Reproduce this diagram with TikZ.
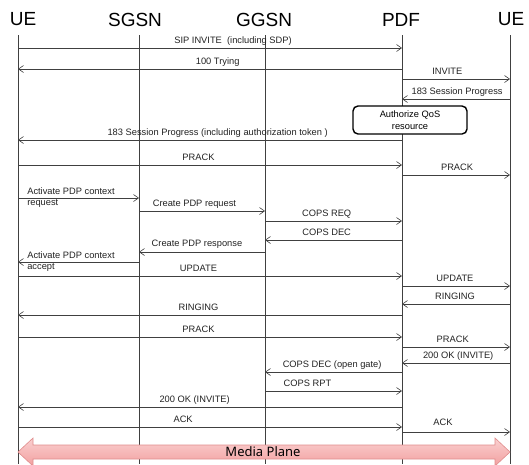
\documentclass[tikz,border=0pt]{standalone}
\usepackage{fontspec}
\setmainfont{Liberation Sans}
\newfontfamily\planefont{Noto Sans}
\usepackage{tikz}
\usetikzlibrary{arrows.meta}
\definecolor{linegray}{HTML}{404040}
\definecolor{textgray}{HTML}{222222}
\definecolor{planetop}{HTML}{FAD0D0}
\definecolor{planebot}{HTML}{F2A0A0}
\definecolor{planeedge}{HTML}{E08C8C}
\tikzset{every node/.append style={font=\rmfamily}}

\begin{document}
\begin{tikzpicture}[x=1pt, y=-1pt, >={Straight Barb[length=5pt,width=7pt]},
    actor/.style={text=black, font=\fontsize{19}{22}\selectfont},
    life/.style={line width=0.6pt, color=linegray},
    msg/.style={->, line width=0.6pt, color=linegray},
    lbl/.style={above=3.5pt, inner sep=1pt, text depth=0pt, text=textgray, font=\fontsize{9.3}{11}\selectfont},
    lbltwo/.style={align=left, anchor=west, inner sep=1pt, text=textgray, font=\fontsize{9.3}{11}\selectfont},
    qosbox/.style={draw, line width=1.4pt, rounded corners=5pt, fill=white, align=center,
        minimum width=114pt, minimum height=28pt, inner sep=0pt, font=\fontsize{9.3}{12}\selectfont},
    planearrow/.style={draw=planeedge, line width=0.6pt, top color=planetop, bottom color=planebot}]
    \useasboundingbox (0,0) rectangle (529,464);

    % Entities
    \node[actor] (hue1)  at (23,19.5)  {UE};
    \node[actor] (hsgsn) at (135,19.5) {SGSN};
    \node[actor] (hggsn) at (264,19.5) {GGSN};
    \node[actor] (hpdf)  at (401,19.5) {PDF};
    \node[actor] (hue2)  at (511,19.5) {UE};

    % Lifelines
    \coordinate (ue1)  at (18,35);
    \coordinate (sgsn) at (139,35);
    \coordinate (ggsn) at (265,35);
    \coordinate (pdf)  at (402,35);
    \coordinate (ue2)  at (510,35);
    \foreach \n in {ue1,sgsn,ggsn,pdf,ue2}
        \draw[life] (\n) -- (\n |- 0,464);

    % Session setup
    \draw[msg] (ue1 |- 0,48) -- node[lbl, pos=.56] {SIP INVITE \ (including SDP)} (pdf |- 0,48);
    \draw[msg] (pdf |- 0,69) -- node[lbl, pos=.48] {100 Trying} (ue1 |- 0,69);
    \draw[msg] (pdf |- 0,79) -- node[lbl, pos=.42] {INVITE} (ue2 |- 0,79);
    \draw[msg] (ue2 |- 0,99) -- node[lbl, pos=.49] {183 Session Progress} (pdf |- 0,99);

    \node[qosbox] (qos) at (410,120) {Authorize QoS\\resource};

    \draw[msg] (pdf |- 0,140) -- node[lbl, pos=.48] {183 Session Progress (including authorization token )} (ue1 |- 0,140);
    \draw[msg] (ue1 |- 0,165) -- node[lbl, pos=.47] {PRACK} (pdf |- 0,165);
    \draw[msg] (pdf |- 0,175) -- node[lbl, pos=.51] {PRACK} (ue2 |- 0,175);

    % PDP context and policy decision
    \draw[msg] (ue1 |- 0,198) -- node[lbltwo, pos=0, xshift=8pt] {Activate PDP context\\request} (sgsn |- 0,198);
    \draw[msg] (sgsn |- 0,211) -- node[lbl, pos=.44] {Create PDP request} (ggsn |- 0,211);
    \draw[msg] (ggsn |- 0,221) -- node[lbl, pos=.45] {COPS REQ} (pdf |- 0,221);
    \draw[msg] (pdf |- 0,240) -- node[lbl, pos=.55] {COPS DEC} (ggsn |- 0,240);
    \draw[msg] (ggsn |- 0,252) -- node[lbl, pos=.54, above=1pt] {Create PDP response} (sgsn |- 0,252);
    \draw[msg] (sgsn |- 0,262) -- node[lbltwo, pos=1, xshift=8pt] {Activate PDP context\\accept} (ue1 |- 0,262);

    % Ringing
    \draw[msg] (ue1 |- 0,276) -- node[lbl, pos=.47] {UPDATE} (pdf |- 0,276);
    \draw[msg] (pdf |- 0,286) -- node[lbl, pos=.49] {UPDATE} (ue2 |- 0,286);
    \draw[msg] (ue2 |- 0,304) -- node[lbl, pos=.51] {RINGING} (pdf |- 0,304);
    \draw[msg] (pdf |- 0,315) -- node[lbl, pos=.53] {RINGING} (ue1 |- 0,315);
    \draw[msg] (ue1 |- 0,337) -- node[lbl, pos=.47] {PRACK} (pdf |- 0,337);
    \draw[msg] (pdf |- 0,347) -- node[lbl, pos=.47] {PRACK} (ue2 |- 0,347);

    % Answer and gate opening
    \draw[msg] (ue2 |- 0,363) -- node[lbl, pos=.48] {200 OK (INVITE)} (pdf |- 0,363);
    \draw[msg] (pdf |- 0,372) -- node[lbl, pos=.51] {COPS DEC (open gate)} (ggsn |- 0,372);
    \draw[msg] (ggsn |- 0,391) -- node[lbl, pos=.31] {COPS RPT} (pdf |- 0,391);
    \draw[msg] (pdf |- 0,407) -- node[lbl, pos=.54] {200 OK (INVITE)} (ue1 |- 0,407);
    \draw[msg] (ue1 |- 0,427) -- node[lbl, pos=.43, above=0pt] {ACK} (pdf |- 0,427);
    \draw[msg] (pdf |- 0,432) -- node[lbl, pos=.38, above=1.5pt] {ACK} (ue2 |- 0,432);

    % Media plane
    \draw[planearrow] (ue1 |- 0,452) -- (33,438) -- (33,445) -- (495,445) -- (495,438)
        -- (ue2 |- 0,452) -- (495,466) -- (495,459) -- (33,459) -- (33,466) -- cycle;
    \node[font=\planefont\fontsize{13}{15}\selectfont, inner sep=0pt] (plane) at (263,452) {Media Plane};
\end{tikzpicture}
\end{document}
